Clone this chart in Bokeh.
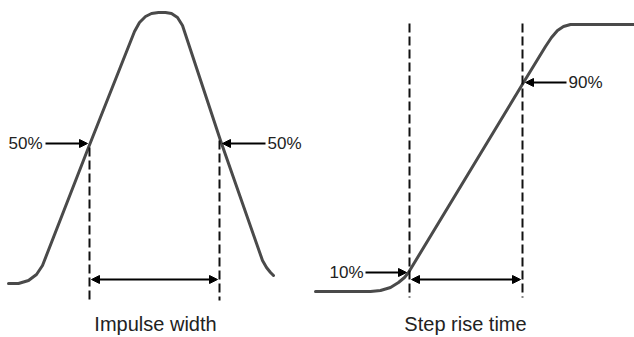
from bokeh.plotting import figure
from bokeh.models import Range1d, ColumnDataSource, Arrow, NormalHead
from bokeh.core.properties import value
from bokeh.embed import file_html
from bokeh.resources import INLINE

# Impulse pulse outline (diagram coordinates, y grows downward)
impulse_x = [8, 18, 28, 36, 42, 88, 134, 139, 145, 151, 158, 165, 171, 177, 182, 220, 262, 266, 270, 273]
impulse_y = [283, 283, 280, 274, 265, 147, 31, 22, 16, 13, 12, 12, 13, 17, 25, 140, 260, 267, 272, 275]

# Step edge outline
step_x = [315, 370, 380, 390, 398, 404, 408, 523, 545, 551, 557, 563, 570, 640]
step_y = [291, 291, 290, 287, 282, 277, 272, 82, 46, 37, 30, 26, 24, 24]

# Dashed marker lines
dash_x = [89, 219, 409, 522]
dash_top = [147, 140, 23, 23]
dash_bottom = [300, 300, 297, 297]

# Single-headed pointer arrows
ptr_x0 = [45, 265, 365, 566]
ptr_x1 = [87, 222, 406, 525]
ptr_y = [143, 143, 272, 82]

# Double-headed width arrows
span_x0 = [91, 411]
span_x1 = [217, 520]
span_y = [279, 279]

# Labels
pct_text = ["50%", "50%", "10%", "90%"]
pct_x = [8, 267, 329, 568]
pct_y = [143, 143, 272, 82]

cap_text = ["Impulse width", "Step rise time"]
cap_x = [155, 465]
cap_y = [323, 323]

p = figure(width=634, height=337, output_backend="svg", toolbar_location=None,
           x_range=Range1d(0, 634), y_range=Range1d(337, 0),
           min_border=0, outline_line_color=None)
p.axis.visible = False
p.grid.visible = False
p.background_fill_color = "white"
p.border_fill_color = "white"

p.line(impulse_x, impulse_y, line_color="#4a4a4a", line_width=3, line_join="round", line_cap="round")
p.line(step_x, step_y, line_color="#4a4a4a", line_width=3, line_join="round", line_cap="round")

p.segment(x0=dash_x, y0=dash_top, x1=dash_x, y1=dash_bottom,
          line_color="#111111", line_width=2, line_dash="9 4")

ptr_src = ColumnDataSource(dict(x0=ptr_x0, x1=ptr_x1, y=ptr_y))
p.add_layout(Arrow(source=ptr_src, x_start="x0", y_start="y", x_end="x1", y_end="y",
                   line_color="black", line_width=2,
                   end=NormalHead(size=8, fill_color="black", line_color="black", line_width=1)))

span_src = ColumnDataSource(dict(x0=span_x0, x1=span_x1, y=span_y))
p.add_layout(Arrow(source=span_src, x_start="x0", y_start="y", x_end="x1", y_end="y",
                   line_color="black", line_width=2,
                   start=NormalHead(size=8, fill_color="black", line_color="black", line_width=1),
                   end=NormalHead(size=8, fill_color="black", line_color="black", line_width=1)))

p.text(x=pct_x, y=pct_y, text=pct_text, text_font=value("Liberation Sans"),
       text_font_size="17px", text_color="#222222", text_align="left", text_baseline="middle")
p.text(x=cap_x, y=cap_y, text=cap_text, text_font=value("Liberation Sans"),
       text_font_size="20px", text_color="#222222", text_align="center", text_baseline="middle")

open("out.html", "w").write(file_html(p, INLINE))
